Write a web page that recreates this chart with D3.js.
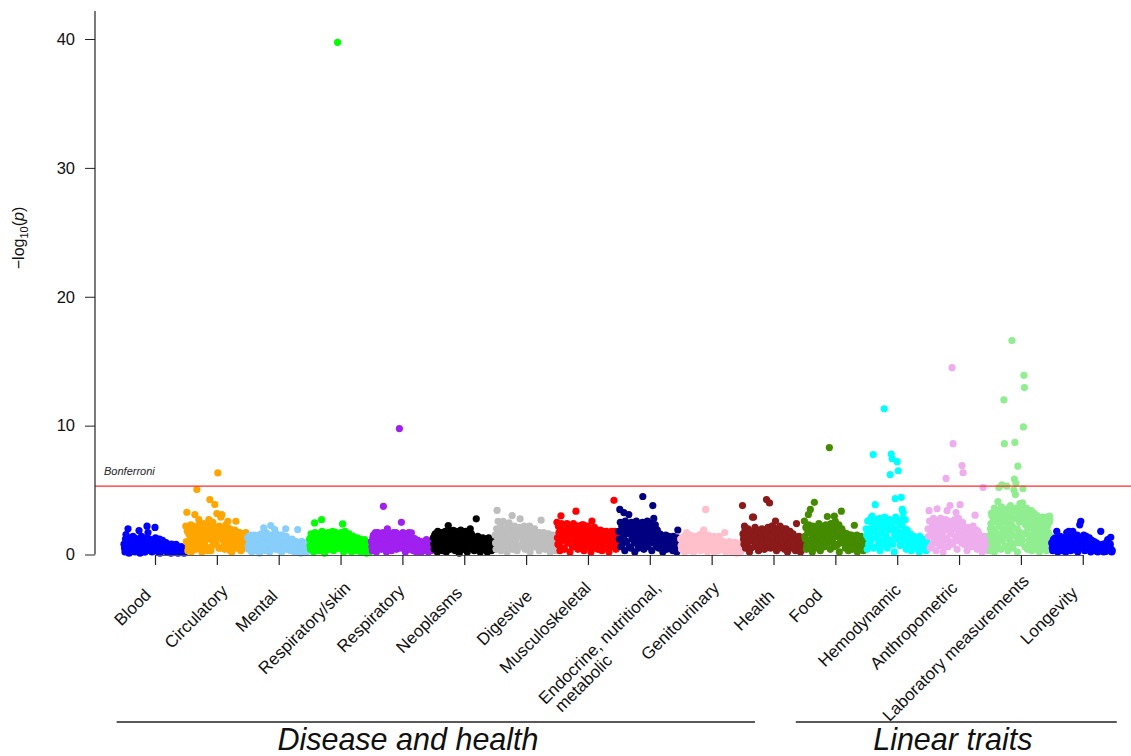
<!DOCTYPE html>
<html>
<head>
<meta charset="utf-8">
<script src="https://cdn.jsdelivr.net/npm/d3@7"></script>
<style>
html, body { margin: 0; padding: 0; background: #fff; }
svg { display: block; font-family: "Liberation Sans", Arial, Helvetica, sans-serif; }
</style>
</head>
<body>
<svg id="chart" width="1131" height="756"></svg>
<script>
// ---------- data ----------
const categories = ["Blood", "Circulatory", "Mental", "Respiratory/skin", "Respiratory", "Neoplasms",
  "Digestive", "Musculoskeletal", "Endocrine, nutritional,\nmetabolic", "Genitourinary", "Health",
  "Food", "Hemodynamic", "Anthropometric", "Laboratory measurements", "Longevity"];
const colors = ["#0000FF", "#FFA500", "#87CEFA", "#00FF00", "#A020F0", "#000000",
  "#BEBEBE", "#FF0000", "#000080", "#FFC0CB", "#8B1A1A",
  "#458B00", "#00FFFF", "#EEAEEE", "#90EE90", "#0000FF"];
const yTicks = [0, 10, 20, 30, 40];
const bonferroni = 5.3;
const groupLabels = ["Disease and health", "Linear traits"];

// phenotypes of each category, in plotting order (-log10 p)
const blood = [0.8,0.2,1.55,0.5,2.0,0.1,0.7,1.1,0.3,1.4,
  0.6,0.2,1.2,0.9,0.4,1.86,0.1,0.8,1.3,0.5,
  1.0,0.2,0.7,2.2,1.7,0.4,1.1,0.6,0.2,1.0,
  0.8,2.1,0.3,1.2,0.5,0.9,0.1,1.0,0.6,0.3,
  0.9,0.5,0.93,0.2,0.7,0.4,0.6,0.1,0.5,0.3,
  0.6,0.2,0.78,0.4,0.1,0.5,0.3,0.6,0.2,0.4,0.1];
const circulatory = [2.2,3.28,0.3,1.6,0.9,2.3,0.5,1.9,1.2,3.1,
  0.4,5.04,1.5,2.7,0.8,2.1,0.2,1.7,2.4,1.0,
  0.6,2.2,1.3,2.7,4.26,0.3,1.8,2.5,0.9,3.88,
  1.4,3.18,6.33,0.5,2.1,2.9,3.1,1.1,1.9,0.4,
  2.3,1.5,2.58,0.7,2.0,1.2,0.2,1.8,1.0,1.9,
  2.58,1.6,0.9,1.4,1.7,0.3,1.1,0.6,1.3,1.5,1.7];
const mental = [1.3,0.4,0.9,1.5,0.2,1.1,0.6,1.4,0.3,1.0,
  0.7,1.5,0.1,1.2,0.5,1.6,2.07,0.8,0.3,1.3,
  0.9,1.5,0.2,2.25,1.1,0.6,1.4,1.94,0.4,1.0,
  1.3,0.5,0.8,1.5,0.2,1.1,0.7,1.3,2.0,0.4,
  0.9,0.6,1.1,0.3,0.8,0.5,0.9,0.2,0.6,0.93,
  1.94,0.3,0.5,0.1,1.03,0.7,0.4,0.9,0.6,0.2,0.5];
const respSkin = [1.2,0.4,1.5,0.8,0.2,2.45,1.1,0.6,1.6,0.3,
  1.0,1.4,2.7,0.5,1.2,0.1,1.6,0.9,1.3,0.4,
  1.5,0.7,1.1,1.8,0.3,1.4,0.8,1.6,39.74,0.5,
  1.2,0.6,1.5,2.37,0.2,1.3,0.9,1.6,0.4,1.1,
  0.7,1.3,0.2,1.0,0.5,1.2,0.8,0.3,1.1,0.6,
  0.9,0.2,0.7,1.0,0.4,1.16,0.6,0.1,0.5,0.3,0.2];
const respiratory = [1.0,0.3,1.5,0.7,1.7,0.2,1.2,0.5,1.6,0.9,
  0.4,1.3,3.74,0.8,1.6,0.2,2.0,1.1,0.6,1.5,
  0.3,1.2,1.7,0.7,1.0,0.4,1.6,0.9,9.77,1.3,
  2.5,0.5,1.1,1.6,0.2,1.3,0.8,1.5,0.4,1.0,
  1.68,0.6,0.3,1.24,0.8,0.2,0.5,0.9,0.3,0.6,
  0.2,0.7,0.4,0.8,0.3,1.16,0.5,0.2,0.6,0.9,0.3];
const neoplasms = [1.3,0.4,1.6,0.8,0.2,1.4,1.0,0.5,1.7,0.3,
  1.2,0.7,1.8,0.2,1.5,2.25,0.9,0.4,1.3,0.6,
  1.88,1.0,0.3,1.6,0.8,1.2,0.1,1.5,0.6,1.1,
  0.4,1.3,0.9,1.6,0.2,1.1,0.7,2.0,1.63,0.5,
  1.2,0.3,0.8,2.77,1.0,0.5,1.3,0.2,0.7,1.09,
  0.4,1.2,0.6,0.9,0.2,1.0,0.5,1.11,0.3,0.8,0.6];
const digestive = [1.5,0.4,3.43,2.58,1.0,1.9,0.3,1.4,2.58,0.7,
  2.0,1.2,0.2,1.7,2.45,0.9,1.5,3.02,0.5,2.1,
  1.1,1.8,0.3,1.4,2.0,2.77,0.7,1.6,1.0,2.2,
  0.4,1.8,1.3,0.8,2.0,0.2,1.5,1.1,1.9,0.6,
  1.4,0.9,1.7,1.55,0.3,1.2,2.66,0.7,1.5,1.0,
  0.4,1.6,1.2,0.8,1.5,0.2,1.1,1.4,0.6,1.0,0.3];
const musculoskeletal = [2.5,0.8,1.7,0.3,3.0,1.2,2.0,0.5,1.5,2.2,
  2.4,0.9,1.8,0.2,1.3,2.1,0.6,1.6,1.0,3.36,
  2.2,0.4,1.4,1.9,0.8,2.3,1.1,0.3,1.7,2.0,
  0.6,1.5,2.1,1.0,0.2,2.6,1.3,1.8,0.7,1.4,
  1.9,0.4,1.2,1.6,0.9,0.3,1.8,1.1,0.5,1.5,
  0.8,1.7,0.2,1.3,0.6,1.6,1.0,4.2,1.8,0.4,1.2];
const endocrine = [1.8,3.5,0.6,2.2,1.3,3.25,0.3,2.0,1.0,2.4,
  3.1,1.6,0.5,2.3,1.2,1.9,0.2,2.4,0.9,1.5,
  2.1,0.7,1.3,2.4,4.5,0.4,1.8,2.2,1.1,0.6,
  2.0,1.4,2.3,0.3,3.8,2.8,1.7,2.0,0.8,1.2,
  0.5,1.6,1.0,1.4,0.2,1.2,0.7,1.5,0.4,1.1,
  1.4,0.6,0.9,1.3,0.3,1.0,0.7,1.2,0.2,1.9,0.5];
const genitourinary = [1.2,0.4,0.9,1.4,0.2,1.0,1.7,0.6,1.3,0.3,
  1.1,0.7,1.4,0.2,0.9,1.3,0.5,1.2,0.8,1.4,
  0.3,1.63,1.0,1.9,0.6,3.5,1.3,0.2,1.1,0.7,
  1.4,0.4,1.2,0.9,0.2,1.3,0.6,1.0,0.3,1.1,
  0.7,0.96,0.4,0.9,1.7,0.2,0.6,0.8,0.3,0.7,
  0.5,0.2,0.8,0.4,0.6,0.95,0.1,0.5,0.3,0.7,0.2];
const health = [3.8,1.2,2.2,0.5,1.7,0.9,1.4,0.2,1.8,1.1,
  2.9,2.9,0.6,1.5,1.0,1.8,0.3,1.3,1.7,0.7,
  1.2,1.9,0.4,1.6,4.26,1.0,2.0,4.0,0.5,1.4,
  2.2,0.8,1.7,2.6,0.3,1.9,1.2,2.1,0.6,1.5,
  1.0,2.0,0.4,1.6,1.2,0.2,1.8,0.9,1.3,0.5,
  1.1,0.7,1.4,0.3,2.4,1.1,0.6,1.2,0.2,0.9,0.4];
const food = [2.6,1.2,0.4,2.0,3.1,0.8,3.5,1.6,0.2,2.1,
  4.05,1.0,1.8,0.5,2.2,1.4,0.3,1.9,1.1,2.0,
  0.6,1.7,2.2,2.95,1.3,8.3,0.4,1.8,1.0,2.1,
  2.97,2.58,0.7,1.5,2.0,0.2,1.2,3.36,1.7,0.9,
  1.4,0.5,1.6,1.1,0.3,1.3,0.8,1.5,0.4,1.0,
  2.27,0.6,1.2,0.2,0.9,1.3,0.5,0.8,1.1,0.3,0.6];
const hemodynamic = [2.0,0.4,1.3,2.6,0.9,1.7,2.97,7.75,2.2,3.87,
  0.6,1.5,2.4,1.1,0.3,2.1,1.8,0.8,11.3,2.6,
  1.4,0.5,2.3,1.0,6.2,7.8,7.43,1.9,0.2,4.34,
  1.6,7.2,6.5,2.5,0.7,4.44,3.5,3.25,1.2,2.7,
  0.4,1.9,1.4,0.9,1.6,0.3,1.2,0.7,1.3,0.5,
  1.1,0.8,1.3,0.2,1.0,0.6,1.2,0.4,0.9,0.7,0.3];
const anthropometric = [2.0,3.4,0.5,1.5,2.5,0.9,2.2,1.2,0.3,3.55,
  1.8,2.6,0.7,1.4,2.3,0.2,1.1,2.0,5.9,3.4,
  0.6,2.4,3.8,1.6,14.5,8.6,1.0,2.2,3.25,0.4,
  1.9,2.6,3.87,1.3,6.9,6.35,0.8,2.1,1.5,0.3,
  1.8,1.1,2.0,0.6,1.5,2.2,0.9,3.05,1.3,0.4,
  1.8,1.0,0.5,1.4,0.2,5.2,0.9,1.3,0.6,1.1,0.3];
const laboratory = [1.5,0.3,2.4,1.0,3.0,0.6,2.0,1.4,2.8,0.2,
  1.8,3.2,0.9,2.5,1.2,3.4,4.1,0.5,5.2,2.2,
  1.6,3.0,0.4,2.7,5.4,1.1,3.5,2.0,12.0,8.6,
  0.7,2.9,1.5,3.3,5.3,2.4,0.3,1.9,3.6,1.2,
  2.6,0.8,3.1,1.7,16.6,2.2,0.5,3.4,5.0,5.85,
  8.7,4.65,5.5,1.4,2.8,0.2,6.85,3.2,1.8,2.5,
  3.95,0.9,3.5,1.3,2.7,4.0,5.1,9.9,13.9,12.95,
  0.6,2.3,3.3,1.6,2.9,0.4,2.0,3.1,1.1,2.4,
  0.8,2.7,1.5,3.0,0.3,2.2,1.3,2.6,0.7,1.9,
  2.5,1.0,0.4,2.3,1.6,2.8,0.9,2.0,1.4,0.2,
  2.4,1.2,2.7,0.6,1.8,2.2,1.0,2.6,0.5,1.5,
  2.6,1.1,2.0,0.3,1.4,2.3,0.8,1.7,1.2,2.97,2.7];
const longevity = [0.9,0.3,1.2,0.6,1.0,1.8,0.2,1.1,0.7,1.3,
  0.4,1.0,0.8,1.2,0.2,1.7,0.6,1.8,1.1,0.3,
  0.9,1.8,0.5,1.2,0.8,1.0,0.2,1.3,2.3,2.58,
  0.6,1.1,1.5,0.3,0.9,1.2,0.5,1.0,0.7,0.2,
  1.1,0.6,0.9,0.3,0.8,0.5,0.2,0.7,0.4,1.8,
  0.3,0.6,0.2,0.5,0.24,0.3,1.16,0.4,0.6,1.34,0.2];

// second batch of phenotypes per category (the dense lower part of each cloud)
const bloodB = [0.5,1.2,0.3,0.9,1.3,0.6,0.2,1.1,0.8,0.4,
  1.3,0.7,1.0,0.3,1.2,0.6,0.9,1.4,0.4,1.1,
  0.2,0.8,1.3,0.5,1.0,1.2,0.3,0.7,1.1,0.9,
  0.4,1.3,0.6,1.0,0.2,1.2,0.8,0.5,1.1,0.7,
  0.3,0.8,0.5,0.7,0.2,0.6,0.4,0.8,0.3,0.6,
  0.2,0.5,0.7,0.3,0.5,0.2,0.4,0.6,0.3,0.5,0.2];
const circulatoryB = [1.0,1.8,0.6,2.1,1.4,0.2,1.7,2.2,0.9,1.3,
  2.0,0.7,1.6,2.3,1.1,0.4,1.9,1.4,0.8,2.2,
  1.5,0.3,2.0,1.2,1.7,0.6,2.3,1.0,1.6,2.1,
  0.8,1.8,1.3,2.2,0.5,1.5,2.0,1.2,0.7,1.8,
  1.4,2.1,0.9,1.6,0.3,1.3,1.9,0.7,1.5,1.2,
  0.5,1.3,1.7,0.8,1.2,1.5,0.4,1.0,1.6,0.9,1.3];
const mentalB = [0.7,1.4,0.5,1.2,1.0,0.3,1.5,0.8,1.2,0.6,
  1.3,0.4,1.0,1.6,0.7,1.1,0.4,1.4,1.7,0.6,
  1.2,0.3,1.0,1.5,0.8,1.3,0.5,1.2,1.6,0.7,
  1.0,1.4,0.3,1.1,1.5,0.6,1.2,0.9,1.4,0.5,
  1.1,0.7,1.0,0.5,1.2,0.8,0.4,0.7,1.0,0.3,
  0.6,0.8,0.2,0.7,0.5,0.9,0.3,0.6,0.8,0.4,0.6];
const respSkinB = [0.7,1.6,1.0,0.4,1.3,1.7,0.6,1.1,0.9,1.5,
  0.3,1.2,1.8,0.8,1.6,1.1,0.5,1.4,1.7,0.9,
  1.2,0.4,1.6,1.0,1.4,0.7,1.7,1.2,0.5,1.5,
  0.9,1.7,1.1,0.4,1.5,1.8,0.7,1.3,1.0,1.6,
  0.5,1.2,0.9,1.4,0.7,1.1,0.3,1.3,0.8,1.0,
  1.2,0.5,0.9,1.1,0.6,0.8,1.0,0.4,0.8,0.6,0.4];
const respiratoryB = [0.6,1.3,0.9,1.6,0.4,1.0,1.7,0.7,1.2,1.5,
  0.9,1.7,0.5,1.3,1.0,1.6,0.7,1.4,1.2,0.4,
  1.6,1.0,0.6,1.4,1.7,0.8,1.2,0.5,1.5,0.9,
  1.3,1.7,0.7,1.0,1.5,0.6,1.2,1.7,0.9,1.4,
  0.5,1.0,0.7,1.2,0.4,0.9,1.1,0.6,0.8,1.0,
  0.4,0.9,0.6,1.0,0.7,0.4,0.8,1.0,0.5,0.7,0.4];
const neoplasmsB = [0.8,1.5,1.0,0.6,1.8,1.2,0.4,1.6,0.9,1.3,
  1.7,0.6,1.1,1.5,0.8,1.9,1.3,0.5,1.7,1.0,
  1.4,0.7,1.8,1.2,0.4,1.6,0.9,1.9,1.3,0.6,
  1.5,1.0,1.8,0.7,1.4,1.2,1.7,0.5,1.1,1.4,
  0.8,1.3,1.0,0.5,1.4,0.8,1.2,1.0,0.4,1.3,
  0.9,0.6,1.2,1.0,0.7,1.3,0.8,0.5,1.1,0.9,0.4];
const digestiveB = [0.9,2.0,1.3,0.5,1.7,2.2,1.1,1.5,0.7,1.9,
  1.3,2.1,0.6,1.6,1.0,2.0,1.4,0.4,1.8,2.2,
  1.2,0.8,1.9,1.5,2.1,0.6,1.3,1.8,1.0,2.0,
  1.6,0.5,1.9,1.2,2.2,0.9,1.7,1.4,0.6,2.0,
  1.1,1.6,0.8,1.3,1.7,0.5,1.4,1.0,1.7,0.7,
  1.5,1.1,0.6,1.6,1.0,1.3,0.8,1.5,1.1,0.5,0.9];
const musculoskeletalB = [1.3,2.2,0.7,1.8,2.4,1.1,1.6,0.4,2.1,1.4,
  0.9,2.3,1.7,1.2,2.0,0.6,2.4,1.5,1.9,0.8,
  1.3,2.2,1.7,0.5,2.0,1.4,2.3,1.0,1.8,1.2,
  2.2,0.7,1.6,2.0,1.3,1.8,0.5,2.1,1.5,1.0,
  1.7,1.3,0.8,1.9,1.5,1.1,1.7,0.6,1.4,1.8,
  1.2,0.9,1.6,1.3,1.8,0.7,1.4,1.1,1.6,0.5,1.0];
const endocrineB = [1.2,2.5,1.7,0.8,2.2,1.5,2.6,1.0,1.9,2.3,
  0.6,1.6,2.5,1.3,2.1,0.9,1.8,2.6,1.4,0.5,
  2.3,1.7,1.1,2.5,1.9,0.7,2.2,1.5,2.6,1.2,
  1.7,2.4,0.9,2.0,1.6,1.3,2.3,0.6,1.9,1.5,
  1.2,0.8,1.5,1.0,1.3,0.6,1.4,1.0,0.8,1.3,
  0.5,1.2,1.0,0.7,1.4,0.9,0.4,1.1,1.3,0.8,0.6];
const genitourinaryB = [0.7,1.3,1.0,0.5,1.4,0.8,1.2,0.4,1.1,1.5,
  0.6,1.3,0.9,1.4,0.5,1.2,1.0,0.7,1.5,1.1,
  0.8,1.3,0.5,1.4,1.0,0.7,1.2,1.5,0.9,0.4,
  1.1,1.3,0.7,1.4,1.0,0.6,1.2,0.8,1.4,0.5,
  0.9,0.6,1.0,0.5,0.8,0.4,0.9,0.6,1.0,0.4,
  0.7,0.9,0.5,0.8,0.3,0.7,0.6,0.4,0.8,0.5,0.3];
const healthB = [1.6,0.8,1.9,1.3,0.6,2.0,1.1,1.7,0.5,1.4,
  1.8,1.0,2.1,0.7,1.5,1.9,1.2,0.4,1.7,2.0,
  0.9,1.5,1.8,1.2,0.6,2.1,1.4,1.0,1.8,2.2,
  0.7,1.6,1.3,2.0,1.0,1.7,0.5,2.2,1.4,1.9,
  0.8,1.6,1.2,2.0,0.6,1.5,1.0,1.8,1.3,0.7,
  1.6,1.0,1.3,0.8,1.2,0.5,1.4,0.9,1.1,0.7,1.0];
const foodB = [1.4,2.1,0.7,1.7,2.3,1.1,1.9,0.5,2.2,1.3,
  1.8,0.8,2.1,1.5,2.4,1.0,1.6,2.2,0.6,1.9,
  1.3,2.3,1.7,0.9,2.0,1.4,2.4,1.1,1.7,0.6,
  2.2,1.4,1.9,0.8,2.3,1.5,1.0,2.0,1.3,1.7,
  0.9,1.3,1.6,0.6,1.2,1.5,0.9,1.4,1.1,0.5,
  1.3,1.0,1.5,0.7,1.2,0.9,1.4,0.6,1.0,1.2,0.7];
const hemodynamicB = [1.5,2.6,0.8,2.0,2.8,1.2,2.4,0.5,1.8,2.7,
  1.3,2.2,0.9,2.8,1.6,2.5,1.0,2.1,2.9,1.4,
  0.6,2.4,1.9,2.7,1.1,2.2,0.8,2.6,1.5,2.9,
  2.0,1.2,2.5,1.7,0.9,2.3,2.8,1.4,2.0,1.1,
  1.6,0.7,1.3,1.0,1.5,0.6,1.2,1.4,0.9,1.1,
  0.5,1.3,1.0,1.4,0.7,1.1,0.5,1.2,0.9,0.6,1.0];
const anthropometricB = [1.4,2.6,1.9,0.7,2.3,2.8,1.1,1.7,2.5,0.9,
  2.2,1.5,2.8,1.0,2.4,1.8,0.6,2.7,1.3,2.1,
  2.6,1.0,1.7,2.4,0.8,2.0,2.7,1.4,2.2,1.1,
  2.8,1.6,2.3,0.9,2.5,1.2,2.0,1.6,0.7,2.1,
  1.4,1.9,0.8,1.7,2.1,1.2,1.5,0.6,1.9,1.3,
  1.0,1.5,0.7,1.3,1.1,0.8,1.4,0.5,1.2,0.9,1.0];
const laboratoryB = [2.0,3.2,1.0,2.6,3.6,1.6,2.9,0.8,3.4,2.2,
  1.3,3.7,2.5,3.0,1.8,3.5,0.6,2.7,3.3,1.2,
  3.8,2.3,1.5,3.4,2.8,0.9,3.6,2.0,3.1,1.4,
  3.5,2.6,1.1,3.3,2.9,1.7,3.6,2.4,0.7,3.0,
  2.1,3.4,1.3,2.7,3.2,1.8,2.5,3.0,1.0,2.8,
  2.3,1.5,2.9,2.0,2.6,1.2,2.9,2.2,1.6,2.5,1.4];
const longevityB = [0.5,1.1,0.8,1.3,0.4,1.0,1.2,0.6,1.4,0.9,
  0.3,1.2,0.7,1.0,1.4,0.5,1.1,0.8,1.3,0.6,
  1.0,1.4,0.4,1.2,0.9,1.5,0.6,1.1,0.8,1.3,
  1.0,0.5,1.2,0.8,1.4,0.6,1.0,1.3,0.4,1.1,
  0.8,0.5,1.0,0.7,0.9,0.4,0.8,0.6,0.3,0.7,
  0.5,0.8,0.4,0.6,0.9,0.3,0.7,0.5,0.8,0.4,0.3];

const seriesValues = [blood, circulatory, mental, respSkin, respiratory, neoplasms,
  digestive, musculoskeletal, endocrine, genitourinary, health,
  food, hemodynamic, anthropometric, laboratory, longevity];
const seriesValuesB = [bloodB, circulatoryB, mentalB, respSkinB, respiratoryB, neoplasmsB,
  digestiveB, musculoskeletalB, endocrineB, genitourinaryB, healthB,
  foodB, hemodynamicB, anthropometricB, laboratoryB, longevityB];

// ---------- layout ----------
const svg = d3.select("#chart");
const font = '"Liberation Sans", Arial, Helvetica, sans-serif';
const axisColor = "#222";

const x = d3.scalePoint().domain(d3.range(categories.length)).range([155, 1082.75]);
const y = d3.scaleLinear().domain([0, 40]).range([554.5, 39]);
const xBase = 555;

// points
const gPts = svg.append("g");
seriesValues.forEach((vals, ci) => {
  const valsB = seriesValuesB[ci];
  const withinB = d3.scaleLinear().domain([0, valsB.length - 1]).range([-30.5, 29.5]);
  const within = d3.scaleLinear().domain([0, vals.length - 1]).range([-31, 29]);
  const g = gPts.append("g").attr("fill", colors[ci]);
  g.append("g").selectAll("circle")
    .data(valsB).join("circle")
    .attr("cx", (d, i) => x(ci) + withinB(i))
    .attr("cy", d => y(d))
    .attr("r", 3.6);
  g.append("g").selectAll("circle")
    .data(vals).join("circle")
    .attr("cx", (d, i) => x(ci) + within(i))
    .attr("cy", d => y(d))
    .attr("r", 3.6);
});

svg.append("line")
  .attr("x1", 95).attr("x2", 1131)
  .attr("y1", y(bonferroni)).attr("y2", y(bonferroni))
  .attr("stroke", "#FF2A2A").attr("stroke-width", 1.3);
svg.append("text")
  .attr("x", 104).attr("y", y(bonferroni) - 11)
  .attr("font-size", 11).attr("font-style", "italic")
  .attr("fill", "#222")
  .text("Bonferroni");

// y axis
const yAxis = svg.append("g")
  .attr("transform", "translate(95,0)")
  .call(d3.axisLeft(y).tickValues(yTicks).tickSize(10).tickPadding(10).tickFormat(d3.format("d")));
yAxis.select(".domain").remove();
yAxis.selectAll(".tick line").attr("stroke", axisColor);
yAxis.selectAll(".tick text").attr("font-size", 16.5).attr("font-family", font).attr("fill", "#111");
svg.append("line")
  .attr("x1", 95).attr("x2", 95).attr("y1", y(0)).attr("y2", 11)
  .attr("stroke", axisColor).attr("stroke-width", 1.2);

// y label
const yl = svg.append("text")
  .attr("transform", "translate(24,238) rotate(-90)")
  .attr("text-anchor", "middle")
  .attr("font-size", 16)
  .attr("fill", "#111");
yl.append("tspan").text("\u2212log");
yl.append("tspan").attr("font-size", 11).attr("dy", 4).text("10");
yl.append("tspan").attr("dy", -4).text("(");
yl.append("tspan").attr("font-style", "italic").text("p");
yl.append("tspan").text(")");

// x axis
const xAxis = svg.append("g")
  .attr("transform", `translate(0,${xBase})`)
  .call(d3.axisBottom(x).tickSize(10).tickSizeOuter(0).tickFormat(""));
xAxis.select(".domain").attr("stroke", "#555").attr("stroke-width", 1);
xAxis.selectAll(".tick line").attr("stroke", axisColor).attr("stroke-width", 1.2);

// category labels (rotated, end-anchored; small per-label nudges as in the original figure)
const labelNudgeX = [-3, 12, 0, 11, 3, -1, 7, 4, 12, 8.5, 2, -12, 4.7, -0.6, 9, -4];
const labelEndY = [592, 588, 593, 585, 588, 590, 593, 585, 585, 585, 593, 592, 587, 585, 578, 590];
const labG = svg.append("g").attr("font-size", 17).attr("fill", "#111");
categories.forEach((name, ci) => {
  const lines = name.split("\n");
  const ax = x(ci) + labelNudgeX[ci];
  const ay = labelEndY[ci] + 4;
  const t = labG.append("text")
    .attr("transform", `translate(${ax},${ay}) rotate(-45)`)
    .attr("text-anchor", "end")
    .text(lines[0]);
  if (lines.length > 1) {
    const w = t.node().getComputedTextLength();
    labG.append("text")
      .attr("transform", `translate(${ax},${ay}) rotate(-45)`)
      .attr("text-anchor", "start")
      .attr("x", -w + 6).attr("y", 17)
      .text(lines[1]);
  }
});

// group lines and titles
const groupExtents = [[-0.62, 9.70, 4.09], [10.36, 15.55, 12.90]];
const idxPx = d3.scaleLinear().domain([0, categories.length - 1]).range([155, 1082.75]);
groupLabels.forEach((lab, gi) => {
  const [a, b, c] = groupExtents[gi];
  svg.append("line")
    .attr("x1", idxPx(a)).attr("x2", idxPx(b))
    .attr("y1", 722).attr("y2", 722)
    .attr("stroke", "#222").attr("stroke-width", 1.3);
  svg.append("text")
    .attr("x", idxPx(c)).attr("y", 750)
    .attr("text-anchor", "middle")
    .attr("font-size", 30.5).attr("font-style", "italic")
    .attr("fill", "#111")
    .text(lab);
});
</script>
</body>
</html>
